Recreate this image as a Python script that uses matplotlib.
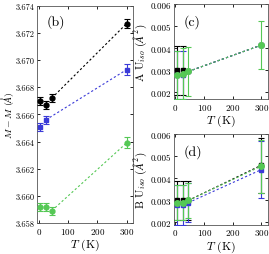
import matplotlib
matplotlib.use("Agg")
import matplotlib.pyplot as plt
from matplotlib.ticker import FormatStrFormatter

plt.rcParams["font.family"] = "serif"
plt.rcParams["font.serif"] = ["cmr10", "DejaVu Serif"]
plt.rcParams["mathtext.fontset"] = "cm"
plt.rcParams["axes.formatter.use_mathtext"] = True
plt.rcParams["axes.unicode_minus"] = False

# temperatures
T_low3 = [5, 25, 45, 300]
T_blue_b = [5, 25, 300]

# (b) M - M
b_black = [3.6670, 3.6667, 3.6672, 3.6727]
b_black_err = [0.0003, 0.0003, 0.0003, 0.0003]
b_blue = [3.6651, 3.6656, 3.6693]
b_blue_err = [0.0003, 0.0003, 0.0004]
b_green = [3.6592, 3.6592, 3.6589, 3.6639]
b_green_err = [0.0003, 0.0003, 0.0003, 0.0004]

# (c) A Uiso  (black / blue only have their own bars at low T)
c_black = [0.0030, 0.0030, 0.00295, 0.00415]
c_black_err = [0.0011, 0.0011]
c_blue = [0.0028, 0.0028, 0.00295, 0.00415]
c_blue_err = [0.0011, 0.0011]
c_green = [0.0028, 0.00285, 0.00295, 0.00415]
c_green_err = [0.0011, 0.00115, 0.0011, 0.0011]

# (d) B Uiso
d_black = [0.0030, 0.0030, 0.0030, 0.0046]
d_black_err = [0.0009, 0.0009, 0.0009, 0.00125]
d_blue = [0.0028, 0.0028, 0.0029, 0.0044]
d_blue_err = [0.0009, 0.0009, 0.0009, 0.0013]
d_green = [0.0029, 0.0029, 0.0030, 0.00456]
d_green_err = [0.0008, 0.0008, 0.0008, 0.0012]

BLACK = "black"
BLUE = "#3a3ad8"
GREEN = "#55c855"

fig = plt.figure(figsize=(2.69, 2.55), dpi=100)
ax_b = fig.add_axes([0.138, 0.122, 0.357, 0.851])
ax_c = fig.add_axes([0.647, 0.608, 0.348, 0.371])
ax_d = fig.add_axes([0.647, 0.115, 0.348, 0.354])


def series(ax, T, y, err, color, marker, ms=3.5):
    n = len(err)
    ax.errorbar(T[:n], y[:n], yerr=err, fmt=marker, color=color, ms=ms,
                capsize=2, elinewidth=0.8, capthick=0.8, zorder=3)
    if n < len(T):
        ax.plot(T[n:], y[n:], marker, color=color, ms=ms, zorder=3)
    ax.plot(T[-2:], y[-2:], ls=(0, (2, 2)), color=color, lw=0.8, zorder=2)


series(ax_b, T_low3, b_black, b_black_err, BLACK, "o")
series(ax_b, T_blue_b, b_blue, b_blue_err, BLUE, "s", ms=3)
series(ax_b, T_low3, b_green, b_green_err, GREEN, "o")

series(ax_c, T_low3, c_black, c_black_err, BLACK, "s", ms=3)
series(ax_c, T_low3, c_blue, c_blue_err, BLUE, "s", ms=3)
series(ax_c, T_low3, c_green, c_green_err, GREEN, "o", ms=4)

series(ax_d, T_low3, d_black, d_black_err, BLACK, "s", ms=3)
series(ax_d, T_low3, d_blue, d_blue_err, BLUE, "s", ms=3)
series(ax_d, T_low3, d_green, d_green_err, GREEN, "o", ms=4)

ax_b.set_ylim(3.658, 3.674)
ax_b.set_yticks([3.658, 3.660, 3.662, 3.664, 3.666, 3.668, 3.670, 3.672, 3.674])
ax_b.set_ylabel(r"$M - M$ ($\AA$)", fontsize=7)
ax_b.yaxis.set_label_coords(-0.215, 0.5)
ax_b.text(0.1, 0.93, "(b)", transform=ax_b.transAxes, fontsize=10, va="center")

ax_c.set_ylim(0.0017, 0.006)
ax_c.set_yticks([0.002, 0.003, 0.004, 0.005, 0.006])
ax_c.set_ylabel(r"A U$_{iso}$ ($\AA^2$)", fontsize=8, labelpad=1)
ax_c.text(0.1, 0.82, "(c)", transform=ax_c.transAxes, fontsize=10, va="center")

ax_d.set_ylim(0.0019, 0.006)
ax_d.set_yticks([0.002, 0.003, 0.004, 0.005, 0.006])
ax_d.set_ylabel(r"B U$_{iso}$ ($\AA^2$)", fontsize=8, labelpad=1)
ax_d.text(0.1, 0.82, "(d)", transform=ax_d.transAxes, fontsize=10, va="center")

for ax in (ax_b, ax_c, ax_d):
    ax.set_xlim(-5, 322)
    ax.set_xticks([0, 100, 200, 300])
    ax.set_xlabel(r"$T$ (K)", fontsize=8.5, labelpad=1)
    ax.tick_params(direction="in", top=True, right=True, labelsize=6.5,
                   length=2.5, width=0.6, pad=2)
    for s in ax.spines.values():
        s.set_linewidth(0.6)
        s.set_color("#555555")
    ax.yaxis.set_major_formatter(FormatStrFormatter("%.3f"))

ax_b.tick_params(axis="y", labelsize=6)

fig.savefig("out.png", dpi=100)
